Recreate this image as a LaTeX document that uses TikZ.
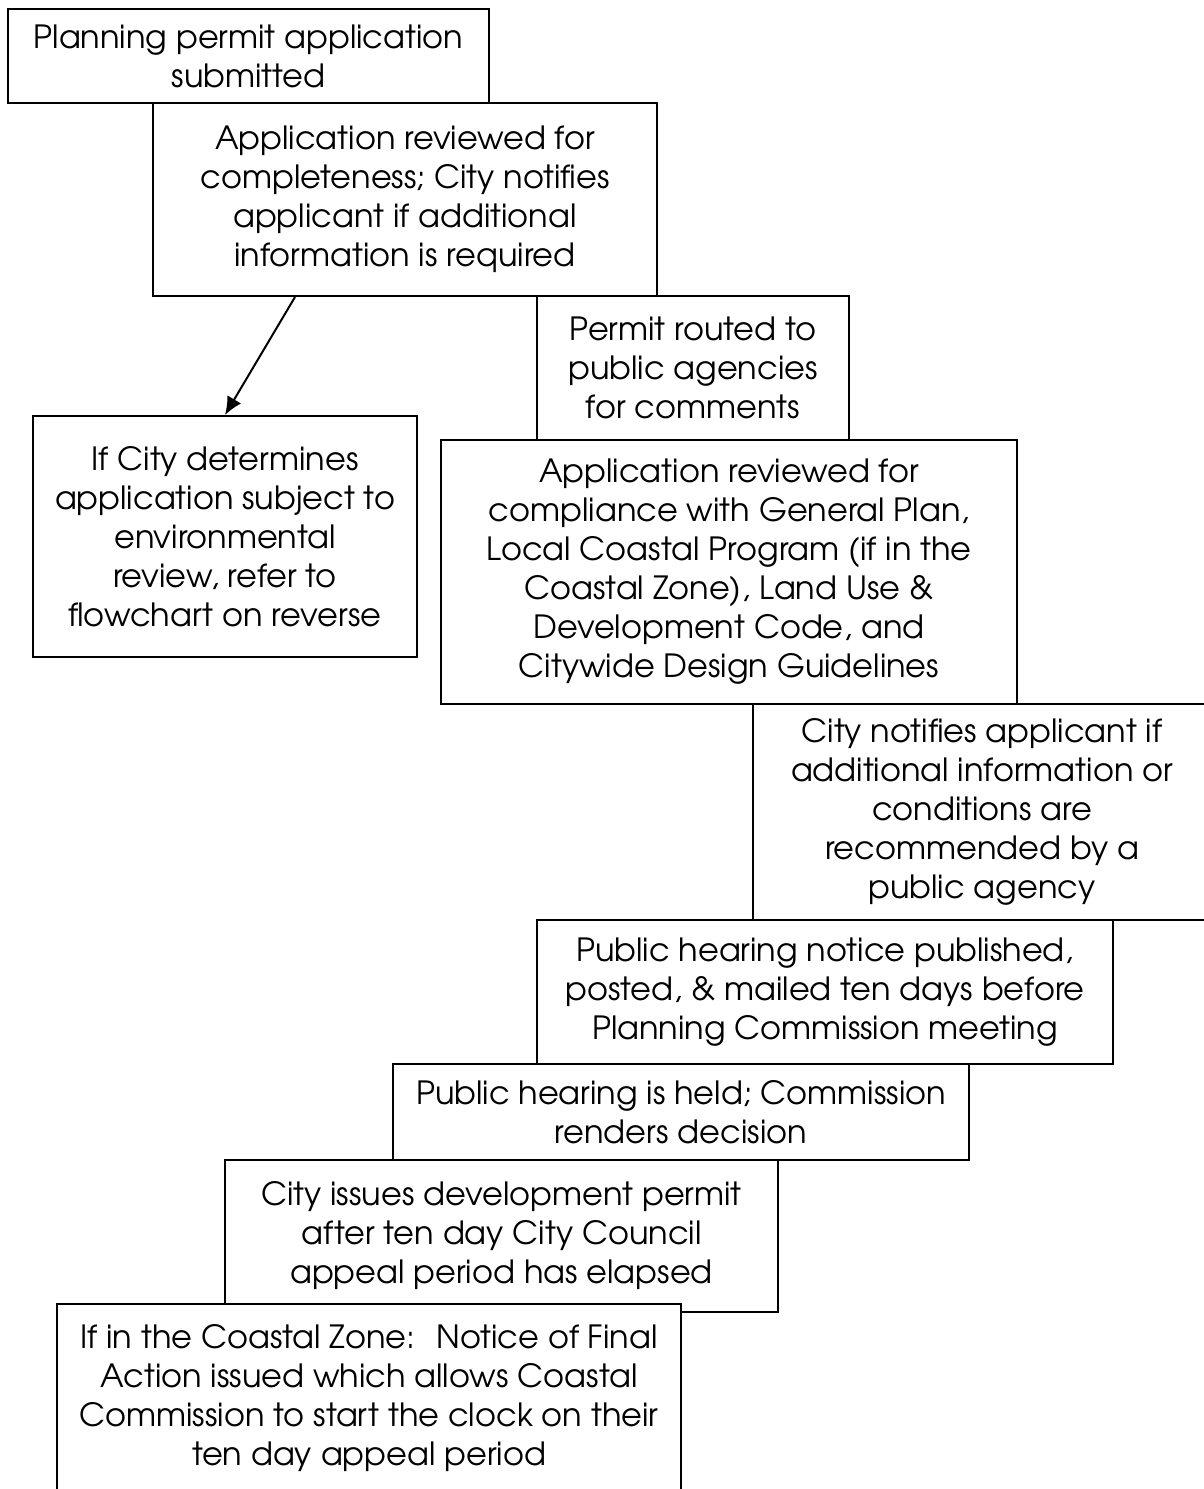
\documentclass[tikz,border=0pt]{standalone}
\usepackage{fontspec}
\setmainfont{TeX Gyre Adventor}
\usetikzlibrary{arrows.meta}

\begin{document}
\begin{tikzpicture}[x=0.5pt,y=-0.5pt,
    stage/.style={draw,fill=white,line width=1pt,inner sep=0pt,align=center,anchor=north west,
      font=\fontsize{16pt}{19.5pt}\selectfont},
    flow/.style={-{Latex[length=9pt,width=8pt]},line width=1pt}]
  \useasboundingbox (0,0) rectangle (1204,1489);
  \node[stage,minimum width=240.5pt,minimum height=47pt](submitted) at (7,8)
    {Planning permit application\\submitted};
  \node[stage,minimum width=252pt,minimum height=96.5pt](completeness) at (152,102)
    {Application reviewed for\\completeness; City notifies\\applicant if additional\\information is required};
  \node[stage,minimum width=156pt,minimum height=72pt](routed) at (536,295)
    {Permit routed to\\public agencies\\for comments};
  \node[stage,minimum width=192pt,minimum height=120.5pt](envreview) at (32,415)
    {If City determines\\application subject to\\environmental\\review, refer to\\flowchart on reverse};
  \node[stage,minimum width=288pt,minimum height=132pt](compliance) at (440,439)
    {Application reviewed for\\compliance with General Plan,\\Local Coastal Program (if in the\\Coastal Zone), Land Use \&\\Development Code, and\\Citywide Design Guidelines};
  \node[stage,minimum width=229pt,minimum height=108pt](notifies) at (752,703)
    {City notifies applicant if\\additional information or\\conditions are\\recommended by a\\public agency};
  \node[stage,minimum width=288pt,minimum height=72pt](notice) at (536,919)
    {Public hearing notice published,\\posted, \& mailed ten days before\\Planning Commission meeting};
  \node[stage,minimum width=288pt,minimum height=48pt](hearing) at (392,1063)
    {Public hearing is held; Commission\\renders decision};
  \node[stage,minimum width=276.5pt,minimum height=76pt](issues) at (224,1159)
    {City issues development permit\\after ten day City Council\\appeal period has elapsed};
  \node[stage,minimum width=312pt,minimum height=94.5pt](coastal) at (56,1303)
    {If in the Coastal Zone:~ Notice of Final\\Action issued which allows Coastal\\Commission to start the clock on their\\ten day appeal period};

  \draw[flow] ([xshift=71.5pt]completeness.south west) -- (envreview.north);
\end{tikzpicture}
\end{document}
